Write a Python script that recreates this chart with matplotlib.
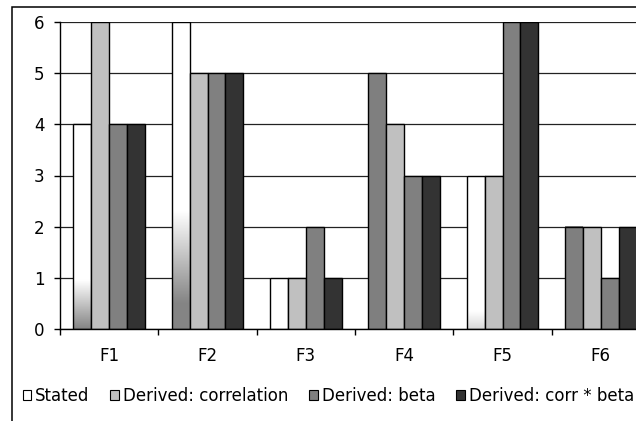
#!/usr/bin/env python3
"""
Grouped bar chart: stated vs derived factor ranks (F1-F6)
"""

import numpy as np
import matplotlib
matplotlib.use("Agg")
import matplotlib.pyplot as plt
from matplotlib.patches import Rectangle, Patch
from matplotlib.ticker import FixedLocator, NullFormatter

plt.rcParams['font.family'] = ['DejaVu Sans']

factors = ["F1", "F2", "F3", "F4", "F5", "F6"]
series_names = ["Stated", "Derived: correlation", "Derived: beta", "Derived: corr * beta"]
stated = [4, 6, 1, 5, 3, 2]
derived_corr = [6, 5, 1, 4, 3, 2]
derived_beta = [4, 5, 2, 3, 6, 1]
derived_corr_beta = [4, 5, 1, 3, 6, 2]
y_ticks = [0, 1, 2, 3, 4, 5, 6]

# fill styles
face_colors = ["white", "#c0c0c0", "#808080", "#333333"]
# shading of the "Stated" bars: (gray up to, white from, darkest gray level)
stated_shade = [(0.0, 0.95, 0.52), (0.5, 2.3, 0.52), (0.0, 0.0, 1.0),
                (9.0, 9.0, 0.5), (0.0, 0.35, 0.85), (9.0, 9.0, 0.5)]


def make_chart():
    fig = plt.figure(figsize=(6.36, 4.21), dpi=100)
    # plot area runs past the right edge of the figure
    ax = fig.add_axes([60 / 636, 1 - 329 / 421, 590 / 636, 307 / 421])

    values = [stated, derived_corr, derived_beta, derived_corr_beta]
    x = np.arange(len(factors)) + 0.5
    width = 0.183
    offsets = (np.arange(4) - 1.5) * width

    bar_sets = []
    for i, vals in enumerate(values):
        bars = ax.bar(x + offsets[i], vals, width, color=face_colors[i],
                      edgecolor="black", linewidth=1.0, zorder=2)
        bar_sets.append(bars)

    # gradient fill inside the stated bars
    for p, (g0, g1, dark) in zip(bar_sets[0], stated_shade):
        p.set_facecolor("none")
        x0, w, h = p.get_x(), p.get_width(), p.get_height()
        yy = np.linspace(0, h, 300)
        if g1 > g0:
            t = np.clip((yy - g0) / (g1 - g0), 0, 1)
        else:
            t = (yy >= g0).astype(float)
        shade = dark + (1 - dark) * t
        img = np.repeat(shade[:, None, None], 3, axis=2)
        ax.imshow(img, extent=(x0, x0 + w, 0, h), origin="lower",
                  aspect="auto", zorder=1.5, interpolation="bilinear")

    ax.set_xlim(0, len(factors))
    ax.set_ylim(0, 6)

    ax.set_axisbelow(True)
    ax.yaxis.grid(True, color="#222222", linewidth=0.9)
    ax.set_yticks(y_ticks)

    ax.xaxis.set_major_locator(FixedLocator(np.arange(len(factors) + 1)))
    ax.xaxis.set_major_formatter(NullFormatter())
    ax.set_xticks(x, minor=True)
    ax.set_xticklabels(factors, minor=True)
    ax.tick_params(axis="x", which="major", direction="out", length=4.3, width=1)
    ax.tick_params(axis="x", which="minor", length=0, pad=13, labelsize=12)
    ax.tick_params(axis="y", direction="out", length=4.3, width=1, pad=7, labelsize=12)

    for side in ["top", "right"]:
        ax.spines[side].set_visible(False)
    for side in ["left", "bottom"]:
        ax.spines[side].set_linewidth(1.0)
        ax.spines[side].set_zorder(3)

    handles = [Patch(facecolor=c, edgecolor="black", linewidth=0.8) for c in face_colors]
    fig.legend(handles, series_names, loc="center left",
               bbox_to_anchor=(22.5 / 636, 1 - 396 / 421), ncol=4, frameon=False,
               fontsize=12, handlelength=0.5, handleheight=0.5,
               handletextpad=0.25, columnspacing=1.26, borderaxespad=0,
               borderpad=0)

    # chart border (cut off on the right and bottom)
    fig.add_artist(Rectangle((12 / 636, -0.1), 1.2, 1.1 - 7 / 421,
                             transform=fig.transFigure, fill=False,
                             edgecolor="black", linewidth=1.1))

    fig.savefig("out.png", dpi=100)


if __name__ == "__main__":
    make_chart()
